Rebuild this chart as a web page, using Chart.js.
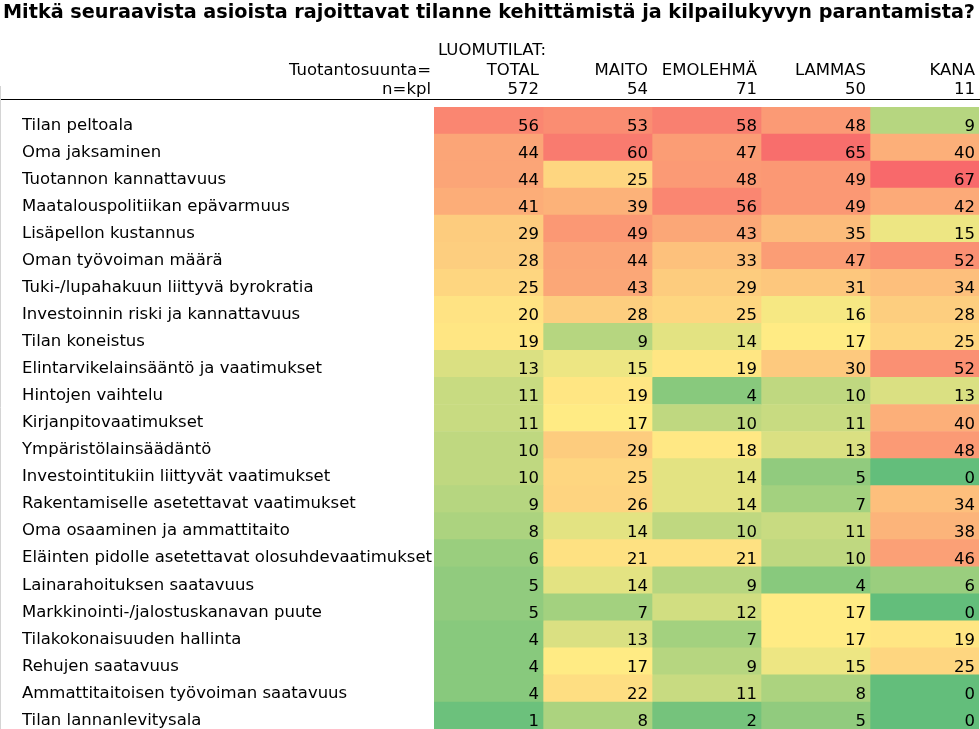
<!DOCTYPE html>
<html>
<head>
<meta charset="utf-8">
<script src="https://cdn.jsdelivr.net/npm/chart.js@4.4.1/dist/chart.umd.min.js"></script>
<style>
html,body{margin:0;padding:0;background:#fff;overflow:hidden;}
#c{display:block;}
</style>
</head>
<body>
<canvas id="c" width="980" height="729"></canvas>
<script>
const titleText = 'Mitkä seuraavista asioista rajoittavat tilanne kehittämistä ja kilpailukyvyn parantamista?';
const groupLabel = 'LUOMUTILAT:';
const rowHeaderLabel = 'Tuotantosuunta=';
const countHeaderLabel = 'n=kpl';
const columns = ['TOTAL', 'MAITO', 'EMOLEHMÄ', 'LAMMAS', 'KANA'];
const nCounts = [572, 54, 71, 50, 11];

const categories = [
  'Tilan peltoala',
  'Oma jaksaminen',
  'Tuotannon kannattavuus',
  'Maatalouspolitiikan epävarmuus',
  'Lisäpellon kustannus',
  'Oman työvoiman määrä',
  'Tuki-/lupahakuun liittyvä byrokratia',
  'Investoinnin riski ja kannattavuus',
  'Tilan koneistus',
  'Elintarvikelainsääntö ja vaatimukset',
  'Hintojen vaihtelu',
  'Kirjanpitovaatimukset',
  'Ympäristölainsäädäntö',
  'Investointitukiin liittyvät vaatimukset',
  'Rakentamiselle asetettavat vaatimukset',
  'Oma osaaminen ja ammattitaito',
  'Eläinten pidolle asetettavat olosuhdevaatimukset',
  'Lainarahoituksen saatavuus',
  'Markkinointi-/jalostuskanavan puute',
  'Tilakokonaisuuden hallinta',
  'Rehujen saatavuus',
  'Ammattitaitoisen työvoiman saatavuus',
  'Tilan lannanlevitysala'
];

const total    = [56, 44, 44, 41, 29, 28, 25, 20, 19, 13, 11, 11, 10, 10, 9, 8, 6, 5, 5, 4, 4, 4, 1];
const maito    = [53, 60, 25, 39, 49, 44, 43, 28, 9, 15, 19, 17, 29, 25, 26, 14, 21, 14, 7, 13, 17, 22, 8];
const emolehma = [58, 47, 48, 56, 43, 33, 29, 25, 14, 19, 4, 10, 18, 14, 14, 10, 21, 9, 12, 7, 9, 11, 2];
const lammas   = [48, 65, 49, 49, 35, 47, 31, 16, 17, 30, 10, 11, 13, 5, 7, 11, 10, 4, 17, 17, 15, 8, 5];
const kana     = [9, 40, 67, 42, 15, 52, 34, 28, 25, 52, 13, 40, 48, 0, 34, 38, 46, 6, 0, 19, 25, 0, 0];

const series = [total, maito, emolehma, lammas, kana];

// Excel-style 3-colour scale (min green, median yellow, max red) over the whole table
const allVals = series.flat().slice().sort((a, b) => a - b);
const vMin = allVals[0], vMax = allVals[allVals.length - 1];
function percentile(arr, p) {
  const idx = (arr.length - 1) * p;
  const lo = Math.floor(idx), hi = Math.ceil(idx);
  return arr[lo] + (arr[hi] - arr[lo]) * (idx - lo);
}
const vMid = percentile(allVals, 0.5);
const cLow = [99, 190, 123], cMid = [255, 235, 132], cHigh = [248, 105, 107];
function mix(a, b, t) { return a.map((v, i) => Math.round(v + (b[i] - v) * t)); }
function colorFor(v) {
  let c;
  if (v <= vMid) c = mix(cLow, cMid, vMid === vMin ? 1 : (v - vMin) / (vMid - vMin));
  else c = mix(cMid, cHigh, (v - vMid) / (vMax - vMid));
  return 'rgb(' + c.join(',') + ')';
}

const FONT = 'DejaVu Sans, Verdana, sans-serif';

const headerPlugin = {
  id: 'headerAndValues',
  afterDatasetsDraw(chart) {
    const ctx = chart.ctx;
    ctx.save();
    ctx.font = '16.5px ' + FONT;
    ctx.fillStyle = '#000';
    ctx.textAlign = 'right';
    ctx.textBaseline = 'alphabetic';
    chart.data.datasets.forEach((ds, di) => {
      const meta = chart.getDatasetMeta(di);
      meta.data.forEach((el, ri) => {
        ctx.fillText(String(ds.values[ri]), el.x - 4, el.y + 10.5);
      });
    });
    ctx.restore();
  },
  afterDraw(chart) {
    const ctx = chart.ctx;
    const xs = chart.scales.x;
    const area = chart.chartArea;
    ctx.save();
    // title
    ctx.fillStyle = '#000';
    ctx.textBaseline = 'alphabetic';
    ctx.textAlign = 'left';
    ctx.font = 'bold 19.3px ' + FONT;
    ctx.fillText(titleText, 3, 18, 972);
    // header rows
    ctx.font = '16.5px ' + FONT;
    ctx.fillText(groupLabel, area.left + 4, 55);
    ctx.textAlign = 'right';
    ctx.fillText(rowHeaderLabel, area.left - 3, 75);
    ctx.fillText(countHeaderLabel, area.left - 3, 94);
    columns.forEach((c, i) => {
      const xr = xs.getPixelForValue(i + 1) - 4;
      ctx.fillText(c, xr, 75);
      ctx.fillText(String(nCounts[i]), xr, 94);
    });
    // separator line
    ctx.strokeStyle = '#000';
    ctx.lineWidth = 1;
    ctx.beginPath();
    ctx.moveTo(0, 99.5);
    ctx.lineTo(chart.width, 99.5);
    ctx.stroke();
    // left grey border
    ctx.strokeStyle = '#d4d4d4';
    ctx.beginPath();
    ctx.moveTo(0.5, 86);
    ctx.lineTo(0.5, chart.height);
    ctx.stroke();
    ctx.restore();
  }
};

new Chart(document.getElementById('c'), {
  type: 'bar',
  data: {
    labels: categories,
    datasets: columns.map((c, i) => ({
      label: c,
      data: categories.map(() => 1),
      values: series[i],
      backgroundColor: series[i].map(colorFor),
      borderWidth: 0,
      barPercentage: 1,
      categoryPercentage: 1
    }))
  },
  options: {
    indexAxis: 'y',
    responsive: false,
    animation: false,
    events: [],
    layout: { padding: { top: 107, left: 22, right: 1, bottom: 0 } },
    scales: {
      x: { stacked: true, min: 0, max: columns.length, display: false },
      y: {
        stacked: true,
        grid: { display: false },
        border: { display: false },
        ticks: {
          color: '#000',
          font: { family: FONT, size: 16.5 },
          crossAlign: 'far',
          padding: 0,
          labelOffset: 5,
          autoSkip: false
        },
        afterFit(scale) {
          scale.width = 412;
          scale.paddingTop = 0;
          scale.paddingBottom = 0;
        }
      }
    },
    plugins: { legend: { display: false }, tooltip: { enabled: false } }
  },
  plugins: [headerPlugin]
});
</script>
</body>
</html>
